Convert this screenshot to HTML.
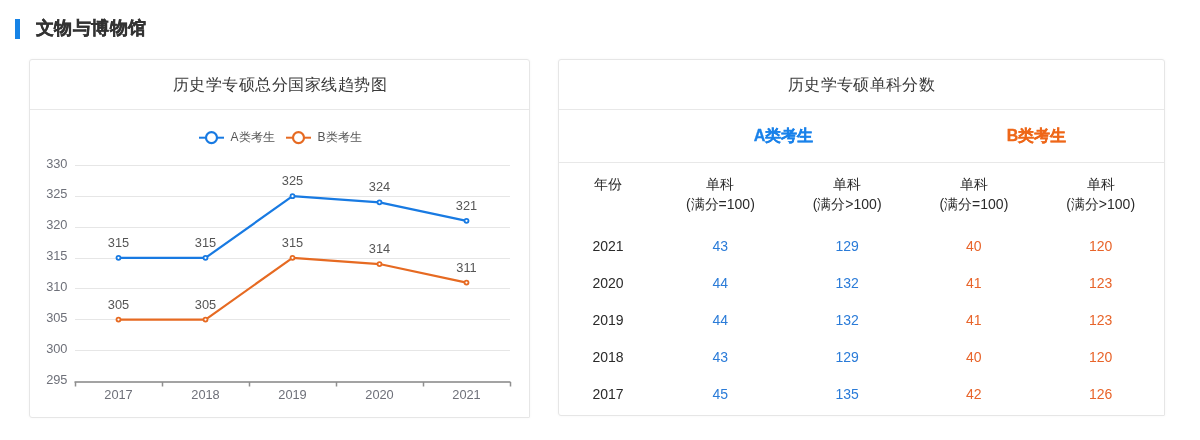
<!DOCTYPE html>
<html><head><meta charset="utf-8"><style>
*{margin:0;padding:0;box-sizing:border-box}
html,body{width:1200px;height:440px;background:#fff;overflow:hidden;font-family:"Liberation Sans",sans-serif;color:#333}
.bar{position:absolute;left:15px;top:19px;width:5px;height:20px;background:#1683E6}
.h{position:absolute;left:36px;top:15px;font-size:18px;letter-spacing:0.4px;line-height:26px;font-weight:bold;color:#333;-webkit-text-stroke:0.35px #333}
.card{position:absolute;top:59px;border:1px solid #E6E6E6;border-radius:3px 3px 1px 3px;background:#fff;box-shadow:0 0 3px rgba(0,0,0,0.04)}
#c1{left:29px;width:501px;height:359px}
#c2{left:558px;width:607px;height:357px}
.ct{position:absolute;left:0;right:0;top:0;height:50px;border-bottom:1px solid #E8E8E8;text-align:center;font-size:16px;line-height:50px;color:#3a3a3a}
#c1 .ct{letter-spacing:0.5px;padding-left:1px} #c2 .ct{letter-spacing:0.35px}
svg{position:absolute;left:0;top:0}
svg text{font-family:"Liberation Sans",sans-serif}
.grp{position:absolute;top:110px;height:53px;border-bottom:1px solid #E8E8E8;left:559px;width:605px}
.grp span{position:absolute;top:0;line-height:52px;font-size:16px;font-weight:bold;-webkit-text-stroke:0.3px currentColor;text-align:center;width:253px}
table{position:absolute;left:559px;top:164px;width:605px;border-collapse:collapse;font-size:14px}
td{text-align:center;height:37px;color:#2a2a2a;padding:0}
td.a{color:#2A7BD8} td.b{color:#E8642A}
tr.hd td{height:63px;line-height:20px;vertical-align:top;padding-top:10px}
</style></head><body><div id="wrap" style="position:absolute;left:0;top:0;width:1200px;height:440px;will-change:transform">
<div class="bar"></div>
<div class="h">文物与博物馆</div>
<div class="card" id="c1"><div class="ct">历史学专硕总分国家线趋势图</div></div>
<div class="card" id="c2"><div class="ct">历史学专硕单科分数</div></div>
<div class="grp"><span style="left:98px;color:#1A82EA">A类考生</span><span style="left:351px;color:#EE6719">B类考生</span></div>
<table>
<colgroup><col style="width:98px"><col style="width:126.75px"><col style="width:126.75px"><col style="width:126.75px"><col style="width:126.75px"></colgroup>
<tr class="hd"><td>年份</td><td>单科<br>(满分=100)</td><td>单科<br>(满分&gt;100)</td><td>单科<br>(满分=100)</td><td>单科<br>(满分&gt;100)</td></tr>
<tr><td>2021</td><td class="a">43</td><td class="a">129</td><td class="b">40</td><td class="b">120</td></tr>
<tr><td>2020</td><td class="a">44</td><td class="a">132</td><td class="b">41</td><td class="b">123</td></tr>
<tr><td>2019</td><td class="a">44</td><td class="a">132</td><td class="b">41</td><td class="b">123</td></tr>
<tr><td>2018</td><td class="a">43</td><td class="a">129</td><td class="b">40</td><td class="b">120</td></tr>
<tr><td>2017</td><td class="a">45</td><td class="a">135</td><td class="b">42</td><td class="b">126</td></tr>
</table>
<svg width="1200" height="440" viewBox="0 0 1200 440">
<line x1="75" y1="350.5" x2="510" y2="350.5" stroke="#E6E6E6" stroke-width="1"/>
<line x1="75" y1="319.5" x2="510" y2="319.5" stroke="#E6E6E6" stroke-width="1"/>
<line x1="75" y1="288.5" x2="510" y2="288.5" stroke="#E6E6E6" stroke-width="1"/>
<line x1="75" y1="258.5" x2="510" y2="258.5" stroke="#E6E6E6" stroke-width="1"/>
<line x1="75" y1="227.5" x2="510" y2="227.5" stroke="#E6E6E6" stroke-width="1"/>
<line x1="75" y1="196.5" x2="510" y2="196.5" stroke="#E6E6E6" stroke-width="1"/>
<line x1="75" y1="165.5" x2="510" y2="165.5" stroke="#E6E6E6" stroke-width="1"/>
<text x="67.5" y="383.5" text-anchor="end" fill="#6E7079" font-size="12.8">295</text>
<text x="67.5" y="352.6" text-anchor="end" fill="#6E7079" font-size="12.8">300</text>
<text x="67.5" y="321.8" text-anchor="end" fill="#6E7079" font-size="12.8">305</text>
<text x="67.5" y="290.9" text-anchor="end" fill="#6E7079" font-size="12.8">310</text>
<text x="67.5" y="260.1" text-anchor="end" fill="#6E7079" font-size="12.8">315</text>
<text x="67.5" y="229.2" text-anchor="end" fill="#6E7079" font-size="12.8">320</text>
<text x="67.5" y="198.4" text-anchor="end" fill="#6E7079" font-size="12.8">325</text>
<text x="67.5" y="167.5" text-anchor="end" fill="#6E7079" font-size="12.8">330</text>
<line x1="74.5" y1="382" x2="510.5" y2="382" stroke="#A3A3A3" stroke-width="2"/>
<line x1="75.5" y1="382" x2="75.5" y2="386.5" stroke="#8F8F8F" stroke-width="1.5"/>
<line x1="162.5" y1="382" x2="162.5" y2="386.5" stroke="#8F8F8F" stroke-width="1.5"/>
<line x1="249.5" y1="382" x2="249.5" y2="386.5" stroke="#8F8F8F" stroke-width="1.5"/>
<line x1="336.5" y1="382" x2="336.5" y2="386.5" stroke="#8F8F8F" stroke-width="1.5"/>
<line x1="423.5" y1="382" x2="423.5" y2="386.5" stroke="#8F8F8F" stroke-width="1.5"/>
<line x1="510.5" y1="382" x2="510.5" y2="386.5" stroke="#8F8F8F" stroke-width="1.5"/>
<text x="118.5" y="399" text-anchor="middle" fill="#6E7079" font-size="12.8">2017</text>
<text x="205.5" y="399" text-anchor="middle" fill="#6E7079" font-size="12.8">2018</text>
<text x="292.5" y="399" text-anchor="middle" fill="#6E7079" font-size="12.8">2019</text>
<text x="379.5" y="399" text-anchor="middle" fill="#6E7079" font-size="12.8">2020</text>
<text x="466.5" y="399" text-anchor="middle" fill="#6E7079" font-size="12.8">2021</text>
<polyline points="118.5,257.87 205.5,257.87 292.5,196.16 379.5,202.33 466.5,220.84" fill="none" stroke="#187AE2" stroke-width="2.2" stroke-linejoin="round"/>
<circle cx="118.5" cy="257.87" r="2" fill="#fff" stroke="#187AE2" stroke-width="1.8"/>
<text x="118.5" y="246.9" text-anchor="middle" fill="#555" font-size="12.8">315</text>
<circle cx="205.5" cy="257.87" r="2" fill="#fff" stroke="#187AE2" stroke-width="1.8"/>
<text x="205.5" y="246.9" text-anchor="middle" fill="#555" font-size="12.8">315</text>
<circle cx="292.5" cy="196.16" r="2" fill="#fff" stroke="#187AE2" stroke-width="1.8"/>
<text x="292.5" y="185.2" text-anchor="middle" fill="#555" font-size="12.8">325</text>
<circle cx="379.5" cy="202.33" r="2" fill="#fff" stroke="#187AE2" stroke-width="1.8"/>
<text x="379.5" y="191.3" text-anchor="middle" fill="#555" font-size="12.8">324</text>
<circle cx="466.5" cy="220.84" r="2" fill="#fff" stroke="#187AE2" stroke-width="1.8"/>
<text x="466.5" y="209.8" text-anchor="middle" fill="#555" font-size="12.8">321</text>
<polyline points="118.5,319.59 205.5,319.59 292.5,257.87 379.5,264.04 466.5,282.56" fill="none" stroke="#E66A22" stroke-width="2.2" stroke-linejoin="round"/>
<circle cx="118.5" cy="319.59" r="2" fill="#fff" stroke="#E66A22" stroke-width="1.8"/>
<text x="118.5" y="308.6" text-anchor="middle" fill="#555" font-size="12.8">305</text>
<circle cx="205.5" cy="319.59" r="2" fill="#fff" stroke="#E66A22" stroke-width="1.8"/>
<text x="205.5" y="308.6" text-anchor="middle" fill="#555" font-size="12.8">305</text>
<circle cx="292.5" cy="257.87" r="2" fill="#fff" stroke="#E66A22" stroke-width="1.8"/>
<text x="292.5" y="246.9" text-anchor="middle" fill="#555" font-size="12.8">315</text>
<circle cx="379.5" cy="264.04" r="2" fill="#fff" stroke="#E66A22" stroke-width="1.8"/>
<text x="379.5" y="253.0" text-anchor="middle" fill="#555" font-size="12.8">314</text>
<circle cx="466.5" cy="282.56" r="2" fill="#fff" stroke="#E66A22" stroke-width="1.8"/>
<text x="466.5" y="271.6" text-anchor="middle" fill="#555" font-size="12.8">311</text>
<line x1="199.0" y1="137.7" x2="224.0" y2="137.7" stroke="#187AE2" stroke-width="2"/>
<circle cx="211.5" cy="137.7" r="5.5" fill="#fff" stroke="#187AE2" stroke-width="2.2"/>
<text x="230.5" y="140.8" fill="#555" font-size="12">A类考生</text>
<line x1="286.0" y1="137.7" x2="311.0" y2="137.7" stroke="#E66A22" stroke-width="2"/>
<circle cx="298.5" cy="137.7" r="5.5" fill="#fff" stroke="#E66A22" stroke-width="2.2"/>
<text x="317.5" y="140.8" fill="#555" font-size="12">B类考生</text>
</svg>
</div></body></html>
